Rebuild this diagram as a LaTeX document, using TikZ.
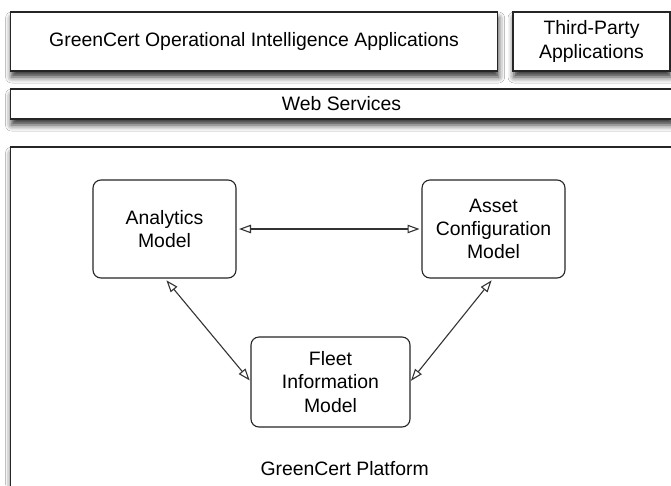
\documentclass[tikz,border=0pt]{standalone}
\usepackage{fontspec}
\setmainfont{Liberation Sans}
\usetikzlibrary{arrows.meta,shadows.blur}
\begin{document}
\begin{tikzpicture}[x=1pt,y=-1pt,
  every node/.style={font=\fontsize{19.4}{23.3}\selectfont, text=black, inner sep=0pt, outer sep=0pt},
  layerbox/.style={draw=black!85, line width=1.2pt, fill=white,
    blur shadow={shadow xshift=1pt, shadow yshift=-6pt, shadow blur radius=6pt, shadow opacity=80}},
  modelbox/.style={draw=black!85, line width=1.1pt, fill=white, rounded corners=8pt, align=center},
  link/.style={draw=black!80, line width=1.1pt,
    {Triangle[open,length=12pt,width=8.5pt,line width=1.1pt]}-{Triangle[open,length=12pt,width=8.5pt,line width=1.1pt]}}
]
\useasboundingbox (0,0) rectangle (671,485);
\clip (0,0) rectangle (671,485);
\fill[white] (0,0) rectangle (671,485);

\node[layerbox, minimum width=487pt, minimum height=59pt] (apps) at (254.1,41.5)
  {GreenCert Operational Intelligence Applications};
\node[layerbox, minimum width=157pt, minimum height=59pt, align=center] (third) at (591.5,41.5)
  {Third-Party\\Applications};
\node[layerbox, minimum width=662pt, minimum height=30pt] (web) at (341.5,104)
  {Web Services};
\path[layerbox] (10.5,147) rectangle (680,500);
\node (plat) at (344.6,468.5) {GreenCert Platform};

\node[modelbox, minimum width=143pt, minimum height=98pt] (ana) at (164.5,229)
  {Analytics\\Model};
\node[modelbox, minimum width=143pt, minimum height=98pt] (asset) at (493.5,229)
  {Asset\\Configuration\\Model};
\node[modelbox, minimum width=159pt, minimum height=90pt] (fleet) at (330.5,382)
  {Fleet\\Information\\Model};

\draw[link, shorten <=3pt, shorten >=2.5pt] (ana.east) -- (asset.west);
\draw[link, shorten <=3pt, shorten >=2pt] (ana.south) -- (fleet.west);
\draw[link, shorten <=3pt, shorten >=1.5pt] (asset.south) -- (fleet.east);
\end{tikzpicture}
\end{document}
